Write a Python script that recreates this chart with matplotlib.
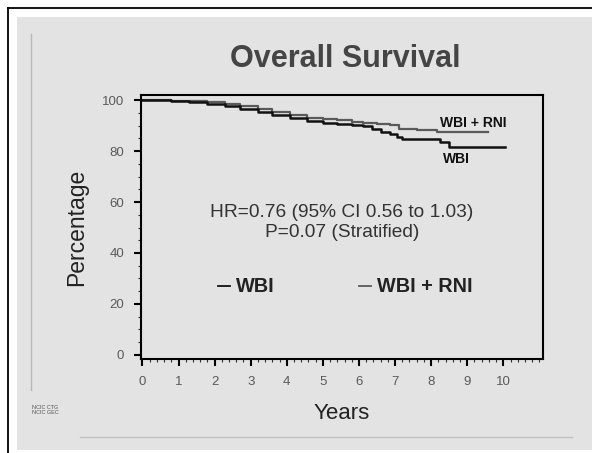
import matplotlib
matplotlib.use('Agg')
import matplotlib.pyplot as plt
from matplotlib.ticker import MultipleLocator
from matplotlib.lines import Line2D

# survival curves (step times in years, percentage surviving)
years_rni = [0, 0.8, 1.3, 1.8, 2.3, 2.7, 3.2, 3.6, 4.1, 4.55, 5.0, 5.4, 5.8, 6.1, 6.5, 6.85, 7.1, 7.6, 8.15, 9.58]
surv_rni = [100, 99.8, 99.6, 99.3, 98.5, 97.8, 96.6, 95.4, 94.2, 93.1, 92.6, 92.2, 91.6, 90.9, 90.5, 90.2, 88.6, 88.3, 87.3, 87.3]
years_wbi = [0, 0.8, 1.3, 1.8, 2.3, 2.7, 3.2, 3.6, 4.1, 4.55, 5.0, 5.4, 5.8, 6.1, 6.35, 6.6, 6.85, 7.05, 7.2, 8.25, 8.5, 10.05]
surv_wbi = [100, 99.7, 99.2, 98.4, 97.5, 96.7, 95.3, 94.1, 93.0, 91.8, 91.2, 90.6, 90.2, 89.8, 88.8, 87.6, 86.5, 85.4, 84.6, 83.4, 81.6, 81.6]

x_ticks = list(range(0, 11))
y_ticks = [0, 20, 40, 60, 80, 100]
stats_text = 'HR=0.76 (95% CI 0.56 to 1.03)\nP=0.07 (Stratified)'

bg = '#e3e3e3'
rni_col = '#5a5a5a'
plt.rcParams['font.family'] = ['Liberation Sans', 'DejaVu Sans']

fig = plt.figure(figsize=(5.92, 4.53), dpi=100)
fig.patch.set_facecolor('white')

# slide background and frame
fig.patches.append(plt.Rectangle((17/592, 3/453), 1, 433/453, transform=fig.transFigure,
                                 facecolor=bg, edgecolor='none', zorder=-10))
fig.lines.append(Line2D([8/592, 8/592], [0, 445/453], transform=fig.transFigure, color='black', lw=1.3))
fig.lines.append(Line2D([8/592, 1], [445/453, 445/453], transform=fig.transFigure, color='black', lw=1.3))
fig.lines.append(Line2D([31/592, 31/592], [63/453, 419/453], transform=fig.transFigure, color='#b8b8b8', lw=1))
fig.lines.append(Line2D([80/592, 572/592], [16/453, 16/453], transform=fig.transFigure, color='#c0c0c0', lw=1))

ax = fig.add_axes([141/592, 94/453, 402/592, 264/453])
ax.set_facecolor(bg)

ax.plot(years_rni, surv_rni, drawstyle='steps-post', color=rni_col, lw=1.6, label='WBI + RNI')
ax.plot(years_wbi, surv_wbi, drawstyle='steps-post', color='#111111', lw=1.8, label='WBI')

ax.set_xlim(-0.04, 11.1)
ax.set_ylim(-1.6, 102)
ax.set_xticks(x_ticks)
ax.set_yticks(y_ticks)
ax.xaxis.set_minor_locator(MultipleLocator(0.2))
ax.yaxis.set_minor_locator(MultipleLocator(5))
ax.tick_params(which='major', direction='out', length=5, width=1.5, colors='black',
               labelcolor='#5a5a5a', labelsize=9.5, pad=7)
ax.tick_params(which='minor', direction='out', length=2, width=0.8, colors='#333333')
for s in ax.spines.values():
    s.set_linewidth(1.5)
    s.set_color('black')

ax.set_xlabel('Years', fontsize=16, color='#222222', labelpad=11)
ax.set_ylabel('Percentage', fontsize=16.5, color='#222222', labelpad=10)

# curve end labels
ax.text(9.17, 91.1, 'WBI + RNI', fontsize=10, fontweight='bold', color='#111111', ha='center', va='center')
ax.text(8.7, 76.9, 'WBI', fontsize=10, fontweight='bold', color='#111111', ha='center', va='center')

ax.text((342 - 141) / 402, (359 - 222.5) / 264, stats_text, transform=ax.transAxes, fontsize=13.8,
        color='#333333', ha='center', va='center', linespacing=1.3)

h_wbi = Line2D([], [], color='#111111', lw=1.3)
h_rni = Line2D([], [], color=rni_col, lw=1.3)
leg = ax.legend([h_wbi, h_rni], ['WBI', 'WBI + RNI'], loc='center left',
                bbox_to_anchor=((210 - 141) / 402, (359 - 287) / 264), ncol=2, frameon=False,
                handlelength=0.6, handletextpad=0.3, columnspacing=4.25, borderaxespad=0,
                prop={'weight': 'bold', 'size': 14.3})
for t in leg.get_texts():
    t.set_color('#222222')

fig.text(345/592, 1 - 59/453, 'Overall Survival', fontsize=22, fontweight='bold',
         color='#454545', ha='center', va='center')
fig.text(32/592, 1 - 410/453, 'NCIC CTG\nNCIC GEC', fontsize=4, color='#555555',
         ha='left', va='center', linespacing=1.0)

fig.savefig('out.png', dpi=100, facecolor=fig.get_facecolor())
